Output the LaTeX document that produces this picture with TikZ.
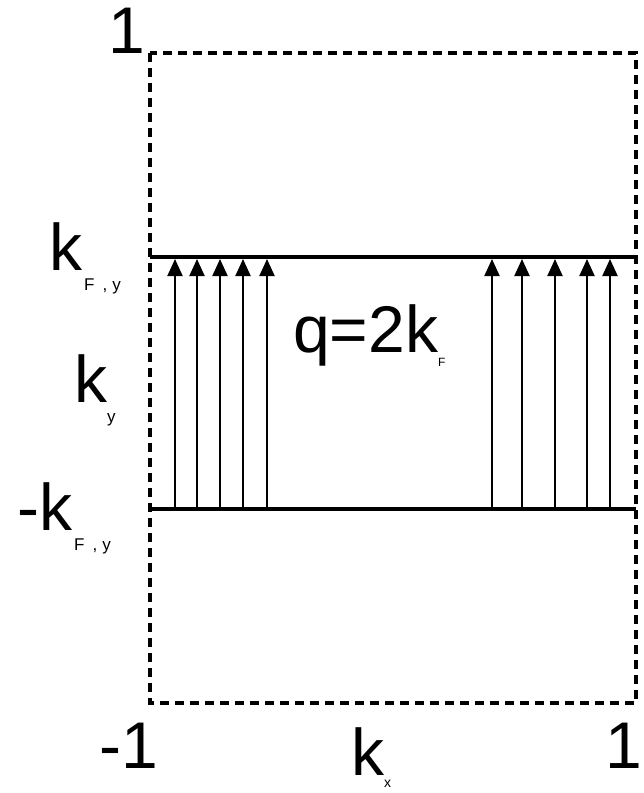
\documentclass[tikz,border=0pt]{standalone}
\usepackage{fontspec}
\setmainfont{Liberation Sans}
\usetikzlibrary{arrows.meta}
\newcommand{\lowsub}[3][17]{\raisebox{-#2}{\fontsize{#1}{#1}\selectfont #3}}

\begin{document}
\begin{tikzpicture}[x=1pt,y=-1pt,
  bigtxt/.style={font=\fontsize{66}{66}\selectfont,inner sep=0pt,anchor=base west},
  zonebox/.style={draw,line width=3.5pt,dash pattern=on 9pt off 6pt},
  fermiline/.style={line width=4pt},
  nestarr/.style={line width=2pt,-{Triangle[width=15pt,length=17pt]}}
]
  \useasboundingbox (0,0) rectangle (644,793);
  % zone boundary
  \draw[zonebox] (150,53) rectangle (636,703);
  % Fermi lines
  \coordinate (topL) at (150,257);
  \coordinate (topR) at (636,257);
  \coordinate (botL) at (150,509);
  \coordinate (botR) at (636,509);
  \draw[fermiline] (topL) -- (topR);
  \draw[fermiline] (botL) -- (botR);
  % nesting arrows
  \foreach \x [count=\i] in {175,197,220,243,267,492,522,555,587,610} {
    \coordinate (b\i) at (\x,509);
    \coordinate (t\i) at (\x,259);
    \draw[nestarr] (b\i) -- (t\i);
  }
  % labels
  \node[bigtxt] (ytop) at (108,53) {1};
  \node[bigtxt] (kfy) at (49,270) {k\hspace{2pt}\lowsub{20pt}{F\hspace{8pt},\hspace{5pt}y}};
  \node[bigtxt] (ky) at (74,402) {k\lowsub{20pt}{y}};
  \node[bigtxt] (mkfy) at (17,530) {-k\hspace{2pt}\lowsub{20pt}{F\hspace{8pt},\hspace{5pt}y}};
  \node[bigtxt] (qlbl) at (293,352) {q=2k\lowsub[12]{14pt}{F}};
  \node[bigtxt] (xmin) at (99,768) {-1};
  \node[bigtxt] (kx) at (351,775) {k\lowsub[14]{12pt}{x}};
  \node[bigtxt] (xmax) at (605,768) {1};
\end{tikzpicture}
\end{document}
